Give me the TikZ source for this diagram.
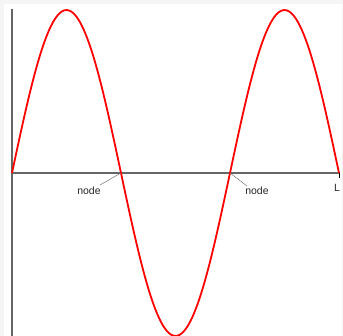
\documentclass[tikz,border=0pt]{standalone}
\usepackage{fontspec}
\setmainfont{Liberation Sans}
\begin{document}
\begin{tikzpicture}[x=1pt,y=-1pt,
  axisline/.style={draw=black!60, line width=1.3pt},
  wave/.style={draw=red, line width=1.8pt, line join=round},
  leader/.style={draw=black!55, line width=0.5pt},
  lbl/.style={font=\fontsize{10.5}{12}\selectfont, inner sep=0pt, text=black!85}]
\fill[black!4] (0,0) rectangle (343,336);
\fill[white] (4,4) rectangle (342,336);
\useasboundingbox (0,0) rectangle (343,336);
\coordinate (o) at (12,173);
\coordinate (top) at (12,9);
\coordinate (bot) at (12,336);
\coordinate (e) at (339,173);
\coordinate (etick) at (339,178);
\draw[axisline] (top) -- (bot);
\draw[axisline] (o) -- (e);
\draw[draw=black, line width=1pt] (e) -- (etick);
\draw[wave] plot[domain=0:327, samples=120, smooth] ({12+\x},{173-163*sin(\x*1.651376)});
\coordinate (z1) at (121,173);
\coordinate (z2) at (230,173);
\node[lbl] (n1) at (89,191) {node};
\node[lbl] (n2) at (257,191) {node};
\node[lbl] (L) at (337,188) {L};
\coordinate (t1) at (100,185);
\coordinate (t2) at (247,186);
\draw[leader] (z1) -- (t1);
\draw[leader] (z2) -- (t2);
\end{tikzpicture}
\end{document}
